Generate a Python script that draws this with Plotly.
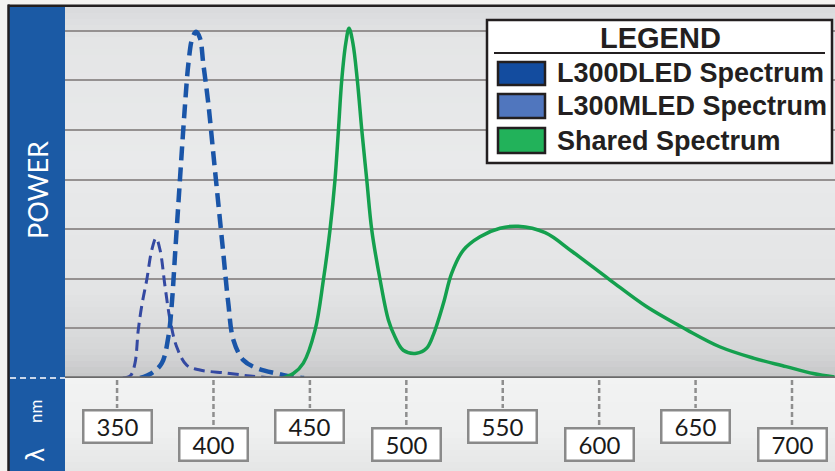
import plotly.graph_objects as go

# ---------------- data ----------------
d_nm = [362, 368, 373.2, 376.6, 378.4, 380.1, 381.8, 383.5, 385.3, 387, 389, 391, 393,
        394.7, 397.3, 399.9, 402.5, 405.1, 407.7, 410.3, 415.5, 422.4, 432.8, 441.4, 447]
d_val = [0, 0.1, 0.3, 0.83, 1.5, 2.51, 3.52, 4.53, 5.54, 6.34, 6.85, 6.98, 6.85,
         6.34, 5.54, 4.53, 3.52, 2.51, 1.5, 0.77, 0.36, 0.2, 0.09, 0.02, 0]

m_nm = [353, 357, 359.3, 361, 363, 365.4, 368, 370.2, 372.3, 374.9, 377.5, 380.9,
        386.1, 393, 406.8, 419, 430]
m_val = [0, 0.05, 0.3, 0.97, 1.5, 1.98, 2.58, 2.82, 2.58, 1.84, 1.17, 0.63,
         0.26, 0.16, 0.1, 0.04, 0]

g_nm = [436, 441.4, 446.6, 452.7, 457, 460.4, 463, 464.8, 466.5, 468.6, 470.3, 472.3,
        474.6, 476.9, 479.5, 482.1, 486.4, 490.7, 494.1, 498.4, 505.3, 510.5, 514,
        519.2, 523.5, 529.6, 538.2, 548.6, 558, 572, 586, 605.5, 624.5, 645.5, 662.5,
        680, 697, 711, 722]
g_val = [0, 0.09, 0.3, 0.97, 1.98, 2.98, 3.99, 5.0, 6.0, 6.75, 7.05, 6.75,
         6.0, 5.0, 3.99, 2.98, 1.98, 1.17, 0.83, 0.56, 0.5, 0.6, 0.87,
         1.5, 2.11, 2.58, 2.85, 3.02, 3.06, 2.93, 2.55, 1.98, 1.44, 0.97, 0.63,
         0.40, 0.23, 0.09, 0.02]

tick_vals = [350, 400, 450, 500, 550, 600, 650, 700]
tick_text = ["350", "400", "450", "500", "550", "600", "650", "700"]

legend_names = ["L300DLED Spectrum", "L300MLED Spectrum", "Shared Spectrum"]
legend_colors = ["#134c9f", "#5076be", "#22b25a"]

# ---------------- geometry helpers ----------------
W, H = 835, 471
L, T, B = 65, 7, 378


def px_x(p):
    return (p - L) / (W - L)


def px_y(p):
    return (B - p) / (B - T)


def hexmix(c1, c2, t):
    a = [int(c1[i:i + 2], 16) for i in (1, 3, 5)]
    b = [int(c2[i:i + 2], 16) for i in (1, 3, 5)]
    return "#" + "".join(f"{round(a[k] + (b[k] - a[k]) * t):02x}" for k in range(3))


def grad(stops, y):
    for (y0, c0), (y1, c1) in zip(stops, stops[1:]):
        if y0 <= y <= y1:
            return hexmix(c0, c1, (y - y0) / (y1 - y0) if y1 > y0 else 0)
    return stops[-1][1]


fig = go.Figure()

fig.add_trace(go.Scatter(x=m_nm, y=m_val, mode="lines", line_shape="spline",
                         line=dict(color="#3449a2", width=3, dash="11px,6px"),
                         showlegend=False, hoverinfo="skip"))
fig.add_trace(go.Scatter(x=d_nm, y=d_val, mode="lines", line_shape="spline",
                         line=dict(color="#1a55a8", width=4.5, dash="14px,7px"),
                         showlegend=False, hoverinfo="skip"))
fig.add_trace(go.Scatter(x=g_nm, y=g_val, mode="lines", line_shape="spline",
                         line=dict(color="#14a04e", width=3.5),
                         showlegend=False, hoverinfo="skip"))

shapes = []
# plot area gradient bands
plot_stops = [(7, "#d9dadc"), (40, "#e4e5e6"), (160, "#e9eaeb"), (290, "#e3e4e5"),
              (350, "#d5d6d7"), (378, "#c6c7c8")]
y = 7
while y < 378:
    y2 = min(y + 6, 378)
    shapes.append(dict(type="rect", xref="paper", yref="paper", x0=0, x1=1,
                       y0=px_y(y2), y1=px_y(y), fillcolor=grad(plot_stops, (y + y2) / 2),
                       line=dict(width=0), layer="below"))
    y = y2
# lower area gradient
low_stops = [(378, "#f2f3f3"), (430, "#eff0f0"), (471, "#e5e6e6")]
y = 378
while y < 471:
    y2 = min(y + 6, 471)
    shapes.append(dict(type="rect", xref="paper", yref="paper", x0=0, x1=1,
                       y0=px_y(y2), y1=px_y(y), fillcolor=grad(low_stops, (y + y2) / 2),
                       line=dict(width=0), layer="below"))
    y = y2

# outer light strips
shapes.append(dict(type="rect", xref="paper", yref="paper", x0=px_x(0), x1=px_x(8),
                   y0=px_y(471), y1=px_y(0), fillcolor="#f4f3f1", line=dict(width=0)))
shapes.append(dict(type="rect", xref="paper", yref="paper", x0=px_x(0), x1=px_x(835),
                   y0=px_y(4.5), y1=px_y(0), fillcolor="#f4f3f1", line=dict(width=0)))
# blue band
shapes.append(dict(type="rect", xref="paper", yref="paper", x0=px_x(9), x1=px_x(65),
                   y0=px_y(471), y1=px_y(6), fillcolor="#1b5aa5", line=dict(width=0)))
# black frame
shapes.append(dict(type="line", xref="paper", yref="paper", x0=px_x(8.5), x1=px_x(8.5),
                   y0=px_y(471), y1=px_y(4.5), line=dict(color="#231f20", width=2.5)))
shapes.append(dict(type="line", xref="paper", yref="paper", x0=px_x(8), x1=px_x(835),
                   y0=px_y(5.8), y1=px_y(5.8), line=dict(color="#231f20", width=2.5)))
# white dashed line in band
shapes.append(dict(type="line", xref="paper", yref="paper", x0=px_x(10), x1=px_x(65),
                   y0=px_y(378), y1=px_y(378),
                   line=dict(color="#c9d6ea", width=2, dash="6px,4px")))
# baseline
shapes.append(dict(type="line", xref="paper", yref="y", x0=0, x1=1, y0=0, y1=0,
                   line=dict(color="#6a6a6a", width=3.5)))

annotations = []
for i, (tv, tt) in enumerate(zip(tick_vals, tick_text)):
    upper = (i % 2 == 0)
    top = 408 if upper else 427
    cy = 426 if upper else 444.5
    shapes.append(dict(type="line", xref="x", yref="paper", x0=tv, x1=tv,
                       y0=px_y(380), y1=px_y(top),
                       line=dict(color="#8e8e8e", width=2.5, dash="5px,3px")))
    annotations.append(dict(x=tv, y=px_y(cy), xref="x", yref="paper", text=tt,
                            showarrow=False, xanchor="center", yanchor="middle",
                            width=66, height=30, bgcolor="#ffffff",
                            bordercolor="#8a8a8a", borderwidth=2.5, borderpad=0,
                            font=dict(family="Lato", size=24, color="#1a1a1a")))

# axis titles in blue band
annotations.append(dict(x=px_x(37), y=px_y(190), xref="paper", yref="paper", text="POWER",
                        showarrow=False, textangle=-90, xanchor="center", yanchor="middle",
                        font=dict(family="Lato", size=27, color="#ffffff")))
annotations.append(dict(x=px_x(36), y=px_y(455), xref="paper", yref="paper", text="λ",
                        showarrow=False, textangle=-90, xanchor="center", yanchor="middle",
                        font=dict(family="DejaVu Sans", size=24, color="#ffffff")))
annotations.append(dict(x=px_x(35), y=px_y(412), xref="paper", yref="paper", text="nm",
                        showarrow=False, textangle=-90, xanchor="center", yanchor="middle",
                        font=dict(family="Lato", size=17, color="#ffffff")))

# legend box
shapes.append(dict(type="rect", xref="paper", yref="paper", x0=px_x(487), x1=px_x(832),
                   y0=px_y(163), y1=px_y(20), fillcolor="#ffffff",
                   line=dict(color="#231f20", width=2.5)))
shapes.append(dict(type="line", xref="paper", yref="paper", x0=px_x(494), x1=px_x(825),
                   y0=px_y(53), y1=px_y(53), line=dict(color="#231f20", width=2)))
annotations.append(dict(x=px_x(660), y=px_y(38), xref="paper", yref="paper", text="<b>LEGEND</b>",
                        showarrow=False, xanchor="center", yanchor="middle",
                        font=dict(family="Liberation Sans", size=29, color="#231f20")))
sq_rows = [(62, 85), (94, 118), (128, 153)]
for (ya, yb), name, col in zip(sq_rows, legend_names, legend_colors):
    shapes.append(dict(type="rect", xref="paper", yref="paper", x0=px_x(498), x1=px_x(545),
                       y0=px_y(yb), y1=px_y(ya), fillcolor=col,
                       line=dict(color="#231f20", width=2.5)))
    annotations.append(dict(x=px_x(555), y=px_y((ya + yb) / 2), xref="paper", yref="paper",
                            text=f"<b>{name}</b>", showarrow=False, xanchor="left",
                            yanchor="middle",
                            font=dict(family="Liberation Sans", size=27, color="#231f20")))

fig.update_layout(
    width=W, height=H,
    margin=dict(l=L, r=0, t=T, b=H - B),
    paper_bgcolor="#eff0f0",
    plot_bgcolor="rgba(0,0,0,0)",
    xaxis=dict(range=[323.0, 722.3], showgrid=False, zeroline=False, showticklabels=False,
               ticks="", showline=False, fixedrange=True),
    yaxis=dict(range=[0, (B - T) / 49.6], showgrid=True, dtick=1, tick0=0,
               gridcolor="#959191", gridwidth=2, zeroline=False, showticklabels=False,
               ticks="", showline=False, fixedrange=True),
    shapes=shapes,
    annotations=annotations,
    showlegend=False,
)

fig.write_html("out.html", config={"displayModeBar": False},
               post_script="document.body.style.margin='0px';document.body.style.overflow='hidden';")
